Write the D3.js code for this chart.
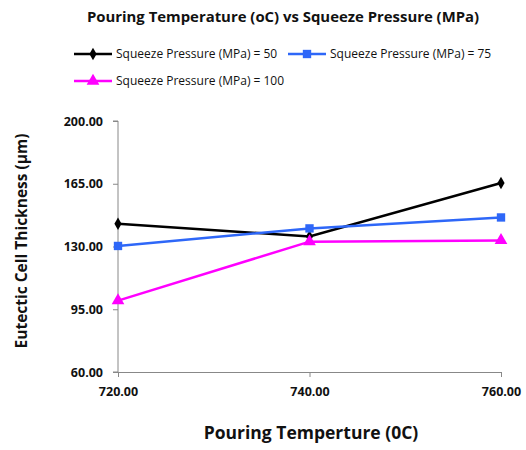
<!DOCTYPE html>
<html>
<head>
<meta charset="utf-8">
<script src="https://cdn.jsdelivr.net/npm/d3@7/dist/d3.min.js"></script>
<style>
  body { margin: 0; background: #fff; }
  text { font-family: "Open Sans", "Liberation Sans", sans-serif; fill: #111; }
</style>
</head>
<body>
<svg id="chart" width="526" height="450"></svg>
<script>
// Pouring temperature (°C) on the x axis
const temperatures = [720, 740, 760];
// Eutectic cell thickness (µm) for each squeeze pressure
const p50 = [142.7, 135.6, 165.4];
const p75 = [130.3, 140.1, 146.2];
const p100 = [99.8, 132.7, 133.4];
const yTicks = [60, 95, 130, 165, 200];
const seriesNames = ["Squeeze Pressure (MPa) = 50", "Squeeze Pressure (MPa) = 75", "Squeeze Pressure (MPa) = 100"];
const seriesColors = ["#000000", "#2e67f8", "#ff00ff"];
const seriesShapes = [d3.symbolDiamond, d3.symbolSquare, d3.symbolTriangle];

const series = [p50, p75, p100].map((vals, i) => ({
  name: seriesNames[i], color: seriesColors[i], shape: seriesShapes[i],
  points: vals.map((v, j) => ({ x: temperatures[j], y: v }))
}));

const svg = d3.select("#chart");
const plot = { left: 118, right: 501, top: 121, bottom: 372 };

const x = d3.scaleLinear().domain([720, 760]).range([plot.left, plot.right]);
const y = d3.scaleLinear().domain([60, 200]).range([plot.bottom, plot.top]);

// Title
svg.append("text").attr("x", 283).attr("y", 22).attr("text-anchor", "middle")
  .style("font-size", "14.9px").style("font-weight", "bold")
  .text("Pouring Temperature (oC) vs Squeeze Pressure (MPa)");

// Axes
const yAxis = svg.append("g").attr("transform", `translate(${plot.left},0)`)
  .call(d3.axisLeft(y).tickValues(yTicks).tickFormat(d3.format(".2f")).tickSize(5).tickPadding(10));
const xAxis = svg.append("g").attr("transform", `translate(0,${plot.bottom})`)
  .call(d3.axisBottom(x).tickValues(temperatures).tickFormat(d3.format(".2f")).tickSize(5).tickPadding(10));
[yAxis, xAxis].forEach(g => {
  g.select(".domain").attr("stroke", "#888");
  g.selectAll(".tick line").attr("stroke", "#888");
  g.selectAll(".tick text").style("font-size", "12.5px").style("font-weight", "bold")
    .style("font-family", "'Open Sans', 'Liberation Sans', sans-serif").attr("fill", "#111");
});
yAxis.select(".domain").attr("d", `M-5,${plot.top}H0V${plot.bottom}H-5`);

// Axis titles
svg.append("text").attr("transform", `translate(27,241) rotate(-90)`)
  .attr("text-anchor", "middle").style("font-size", "15.5px").style("font-weight", "bold")
  .text("Eutectic Cell Thickness (µm)");
svg.append("text").attr("x", 311).attr("y", 439).attr("text-anchor", "middle")
  .style("font-size", "17.5px").style("font-weight", "bold")
  .text("Pouring Temperture (0C)");

// Lines and markers
const line = d3.line().x(d => x(d.x)).y(d => y(d.y));
const markerSize = shape => shape === d3.symbolDiamond ? 45 : 70;
series.forEach(s => {
  svg.append("path").datum(s.points).attr("d", line)
    .attr("fill", "none").attr("stroke", s.color).attr("stroke-width", 2.5);
  svg.selectAll(null).data(s.points).enter().append("path")
    .attr("transform", d => `translate(${x(d.x)},${y(d.y)})`)
    .attr("d", d3.symbol().type(s.shape).size(markerSize(s.shape)))
    .attr("fill", s.color);
});

// Legend
const legendPos = [[74, 54], [288, 54], [74, 81]];
series.forEach((s, i) => {
  const [lx, ly] = legendPos[i];
  const g = svg.append("g").attr("transform", `translate(${lx},${ly})`);
  g.append("line").attr("x1", 0).attr("x2", 38).attr("y1", 0).attr("y2", 0)
    .attr("stroke", s.color).attr("stroke-width", 2.5);
  g.append("path").attr("transform", "translate(19,0)")
    .attr("d", d3.symbol().type(s.shape).size(markerSize(s.shape)))
    .attr("fill", s.color);
  g.append("text").attr("x", 42).attr("y", 4.2).style("font-size", "12px").text(s.name);
});
</script>
</body>
</html>
